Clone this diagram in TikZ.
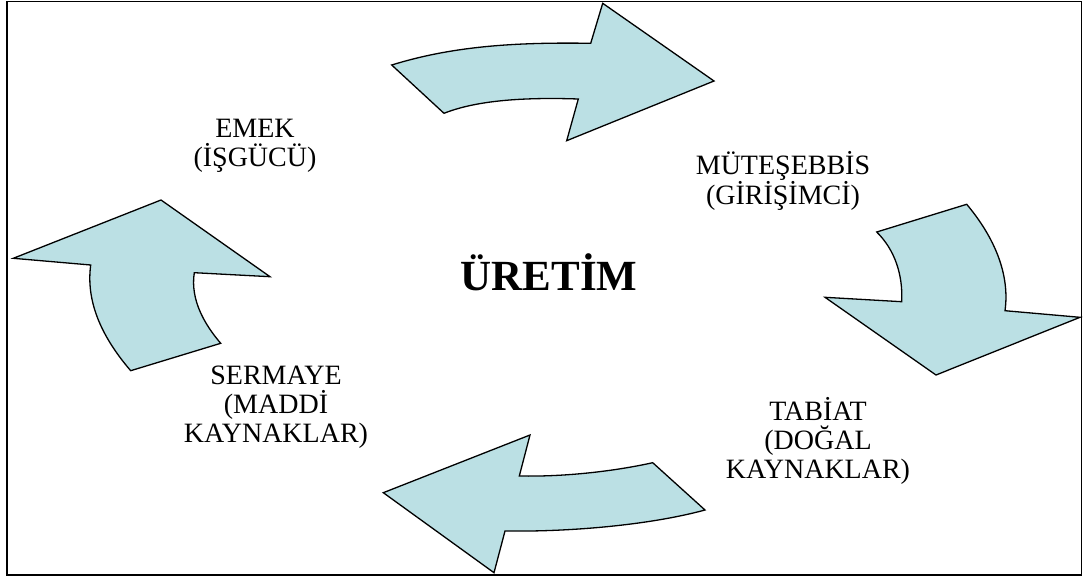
\documentclass[tikz,border=0pt]{standalone}
\usepackage{fontspec}
\setmainfont{Liberation Serif}
\definecolor{arrowfill}{RGB}{187,224,228}
\begin{document}
\begin{tikzpicture}[x=1pt,y=-1pt,
  bentarrow/.style={fill=arrowfill,draw=black,line width=1.3pt,line join=miter},
  label/.style={align=center,font=\fontsize{28}{29}\selectfont,inner sep=0pt},
  title/.style={font=\fontsize{43}{45}\selectfont\bfseries,inner sep=0pt}]
  \useasboundingbox (0,0) rectangle (1087,578);
  % outer frame
  \draw[line width=1.5pt] (7,1.5) rectangle (1081.5,575);

  % top arrow: EMEK -> MUTESEBBIS
  \draw[bentarrow] (391.7,65) .. controls (450,47) and (510,42) .. (590.7,43.3)
    -- (602.7,3.3) -- (714,81) -- (566.7,140.7) -- (578.3,99)
    .. controls (520,97) and (475,101) .. (444,113.3) -- cycle;

  % right arrow: MUTESEBBIS -> TABIAT
  \draw[bentarrow] (876.7,232) -- (966.7,204.3)
    .. controls (995,238) and (1010,275) .. (1005,310.7)
    -- (1080,317.3) -- (936,375) -- (825,297.3) -- (901.7,301.7)
    .. controls (903,275) and (895,250) .. (876.7,232) -- cycle;

  % bottom arrow: TABIAT -> SERMAYE
  \draw[bentarrow] (383.3,492.7) -- (530,435) -- (519.3,476)
    .. controls (570,477) and (620,470) .. (652.7,462.7)
    -- (705,510) .. controls (650,525) and (570,532) .. (505,531)
    -- (494,572.7) -- cycle;

  % left arrow: SERMAYE -> EMEK
  \draw[bentarrow] (161,200) -- (13.3,258.3) -- (90.7,265)
    .. controls (86,300) and (100,335) .. (130.7,370.7)
    -- (220.7,343.3) .. controls (205,325) and (190,300) .. (194.3,272.7)
    -- (270,276.7) -- cycle;

  % labels
  \node[label] (emek) at (255,146) {EMEK\\(İŞGÜCÜ)};
  \node[label] (mutesebbis) at (783,181) {MÜTEŞEBBİS\\(GİRİŞİMCİ)};
  \node[label] (tabiat) at (818,441) {TABİAT\\(DOĞAL\\KAYNAKLAR)};
  \node[label] (sermaye) at (276,407) {SERMAYE\\(MADDİ\\KAYNAKLAR)};
  \node[title] (uretim) at (549,272) {ÜRETİM};
\end{tikzpicture}
\end{document}
